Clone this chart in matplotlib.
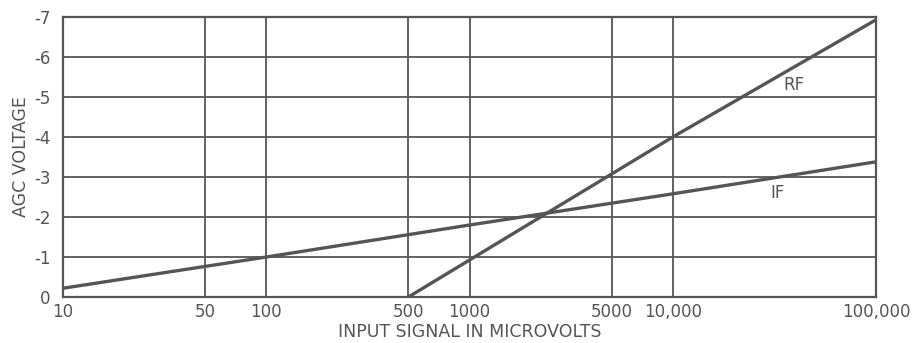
import matplotlib
matplotlib.use("Agg")
import matplotlib.pyplot as plt
from matplotlib.ticker import FixedLocator, FixedFormatter, NullLocator

# input signal (microvolts) and AGC voltage
if_signal = [10, 100, 1000, 10000, 100000]
if_volts = [-0.22, -1.0, -1.8, -2.58, -3.38]

rf_signal = [500, 10000, 100000]
rf_volts = [0.0, -4.0, -6.93]

x_ticks = [10, 50, 100, 500, 1000, 5000, 10000, 100000]
x_labels = ["10", "50", "100", "500", "1000", "5000", "10,000", "100,000"]
y_ticks = [0, -1, -2, -3, -4, -5, -6, -7]
y_labels = ["0", "-1", "-2", "-3", "-4", "-5", "-6", "-7"]

ink = "#555555"

fig = plt.figure(figsize=(9.13, 3.43), dpi=100)
ax = fig.add_axes([0.069, 0.134, 0.8905, 0.8165])

ax.set_xscale("log")
ax.set_xlim(10, 100000)
ax.set_ylim(0, -7)

ax.xaxis.set_major_locator(FixedLocator(x_ticks))
ax.xaxis.set_major_formatter(FixedFormatter(x_labels))
ax.xaxis.set_minor_locator(NullLocator())
ax.set_yticks(y_ticks)
ax.set_yticklabels(y_labels)

ax.grid(True, color=ink, linewidth=1.3)
ax.tick_params(axis="both", length=0, labelsize=12, labelcolor=ink)
ax.tick_params(axis="x", pad=4)
ax.tick_params(axis="y", pad=9)
for s in ax.spines.values():
    s.set_color(ink)
    s.set_linewidth(1.6)

ax.plot(if_signal, if_volts, color=ink, linewidth=2.4, solid_capstyle="butt")
ax.plot(rf_signal, rf_volts, color=ink, linewidth=2.4, solid_capstyle="butt")

ax.text(39500, -5.3, "RF", color=ink, fontsize=12, ha="center", va="center")
ax.text(32600, -2.6, "IF", color=ink, fontsize=12, ha="center", va="center")

ax.set_xlabel("INPUT SIGNAL IN MICROVOLTS", color=ink, fontsize=12.5, labelpad=2)
ax.set_ylabel("AGC VOLTAGE", color=ink, fontsize=12.5, labelpad=3)

fig.savefig("out.png", dpi=100)
